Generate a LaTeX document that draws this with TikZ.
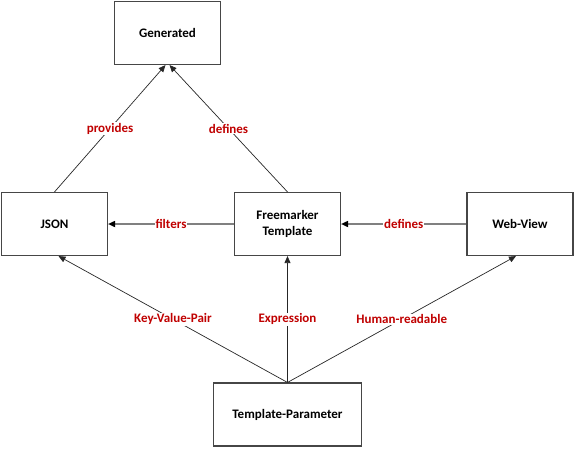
\documentclass[tikz,border=0pt]{standalone}
\usepackage{fontspec}
\setmainfont{Carlito}
\usepackage{xcolor}
\usetikzlibrary{arrows.meta}

\definecolor{labelred}{RGB}{192,0,0}
\definecolor{boxedge}{RGB}{70,70,70}
\definecolor{flowgray}{RGB}{128,128,128}

\begin{document}
\begin{tikzpicture}[x = 1pt, y = -1pt,
                    box/.style = {draw=boxedge, line width=1.1pt, fill=white,
                                  minimum width=106pt, minimum height=63pt,
                                  align=center, font=\fontsize{13}{16}\selectfont\bfseries},
                    rel/.style = {draw=black!85, line width=0.7pt,
                                  -{Triangle[length=7pt,width=6pt]}},
                    relflow/.style = {draw=flowgray, line width=1.6pt,
                                  -{Triangle[length=7pt,width=6pt,color=black]}},
                    lbl/.style = {fill=white, text=labelred, inner sep=1pt,
                                  font=\fontsize{13}{16}\selectfont\bfseries}]

  \useasboundingbox (0,0) rectangle (575,448);

  % BOXES
  \node[box] (gen)  at (167.5, 33)  {Generated};
  \node[box] (json) at (54.5, 224)  {JSON};
  \node[box] (ftl)  at (287.5, 224) {Freemarker\\Template};
  \node[box] (web)  at (520, 224)   {Web-View};
  \node[box, minimum width=148pt] (param) at (287.5, 414.5) {Template-Parameter};

  % RELATIONS
  \draw[rel] (json.north) -- node[lbl] {provides} ([xshift=-2pt]gen.south);
  \draw[rel] (ftl.north)  -- node[lbl] {defines}  ([xshift=2pt]gen.south);
  \draw[relflow] (ftl.west) -- node[lbl] {filters} (json.east);
  \draw[relflow] (web.west) -- node[lbl] {defines} (ftl.east);
  \draw[rel] (param.north) -- node[lbl] {Key-Value-Pair} ([xshift=4pt]json.south);
  \draw[rel] (param.north) -- node[lbl] {Expression}     (ftl.south);
  \draw[rel] (param.north) -- node[lbl] {Human-readable} ([xshift=-4pt]web.south);

\end{tikzpicture}
\end{document}
